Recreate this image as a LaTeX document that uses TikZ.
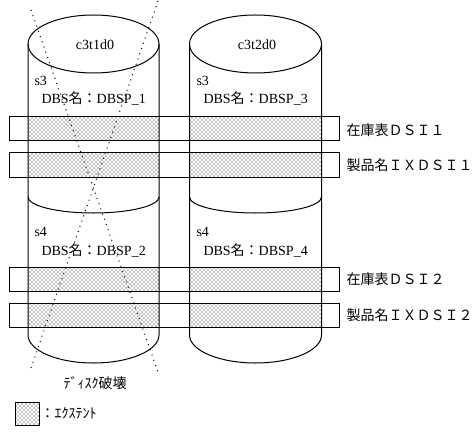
\documentclass[tikz,border=0pt]{standalone}
\usepackage{fontspec}
\setmainfont{Liberation Serif}
\newfontfamily\cjk{Noto Sans CJK JP}
\usetikzlibrary{patterns}
\begin{document}
\begin{tikzpicture}[x=0.75pt,y=0.75pt,line width=0.75pt,
  extent/.style={pattern=crosshatch dots,pattern color=black},
  band/.style={draw=black},
  lbl/.style={inner sep=0pt,font=\fontsize{10.5pt}{12pt}\selectfont},
  crack/.style={draw=black,line width=0.75pt,dash pattern=on 0.75pt off 3.4pt}]
\useasboundingbox (0,0) rectangle (473,-438);
% shaded extents (inside cylinders only)
\foreach \ya/\yb in {117/141,153/177,267/291,303/327}{
  \fill[extent] (28,-\ya) rectangle (159,-\yb);
  \fill[extent] (189.5,-\ya) rectangle (321.5,-\yb);
}
% band outlines
\foreach \ya/\yb in {117/141,153/177,267/291,303/327}{
  \draw[band] (9,-\ya) rectangle (339,-\yb);
}
% cylinder 1
\draw (93.5,-44) ellipse[x radius=65.5,y radius=29];
\draw (28,-44) -- (28,-335) arc[start angle=180,end angle=360,x radius=65.5,y radius=28] -- (159,-44);
\draw (28,-197) arc[start angle=180,end angle=360,x radius=65.5,y radius=16];
% cylinder 2
\draw (255.5,-44) ellipse[x radius=66,y radius=29];
\draw (189.5,-44) -- (189.5,-335) arc[start angle=180,end angle=360,x radius=66,y radius=28] -- (321.5,-44);
\draw (189.5,-197) arc[start angle=180,end angle=360,x radius=66,y radius=16];
% texts
\node[lbl] (d1) at (95,-45) {c3t1d0};
\node[lbl] (d2) at (257,-45) {c3t2d0};
\node[lbl,anchor=west] (s31) at (34,-81) {s3};
\node[lbl,anchor=west] (n1) at (41,-98.5) {DBS{\cjk 名：}DBSP\_1};
\node[lbl,anchor=west] (s32) at (196,-81) {s3};
\node[lbl,anchor=west] (n3) at (203,-98.5) {DBS{\cjk 名：}DBSP\_3};
\node[lbl,anchor=west] (s41) at (34,-232) {s4};
\node[lbl,anchor=west] (n2) at (41,-250) {DBS{\cjk 名：}DBSP\_2};
\node[lbl,anchor=west] (s42) at (196,-232) {s4};
\node[lbl,anchor=west] (n4) at (203,-250) {DBS{\cjk 名：}DBSP\_4};
\node[lbl,anchor=west] (b1) at (346,-130) {\cjk 在庫表ＤＳＩ１};
\node[lbl,anchor=west] (b2) at (346,-165) {\cjk 製品名ＩＸＤＳＩ１};
\node[lbl,anchor=west] (b3) at (346,-279) {\cjk 在庫表ＤＳＩ２};
\node[lbl,anchor=west] (b4) at (346,-315) {\cjk 製品名ＩＸＤＳＩ２};
\node[lbl] (crash) at (95,-383) {\cjk ﾃﾞｨｽｸ破壊};
% legend
\filldraw[extent,draw=black] (15,-402) rectangle (39,-425);
\node[lbl,anchor=west] (leg) at (40,-413.5) {\cjk ：ｴｸｽﾃﾝﾄ};
% crack lines
\coordinate (c1a) at (31,-10);
\coordinate (c1b) at (159,-375);
\coordinate (c2a) at (158,-1);
\coordinate (c2b) at (31,-368);
\draw[crack] (c1a) -- (c1b);
\draw[crack] (c2a) -- (c2b);
\end{tikzpicture}
\end{document}
